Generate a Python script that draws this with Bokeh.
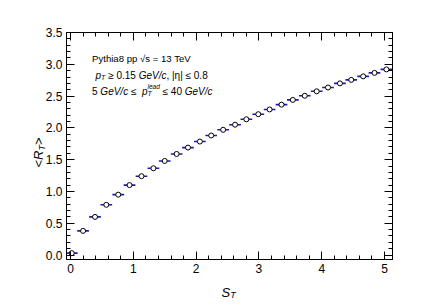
import math
from bokeh.plotting import figure
from bokeh.models import (Label, LinearAxis, SingleIntervalTicker, NumeralTickFormatter,
                          Range1d, ColumnDataSource)
from bokeh.embed import file_html
from bokeh.resources import INLINE

# ---- data ----
st = [0.02, 0.20, 0.39, 0.57, 0.76, 0.94, 1.13, 1.32, 1.50, 1.69, 1.87, 2.06, 2.24, 2.43,
      2.62, 2.80, 2.99, 3.17, 3.36, 3.54, 3.73, 3.92, 4.10, 4.29, 4.47, 4.66, 4.84, 5.03]
mean_rt = [0.03, 0.38, 0.60, 0.79, 0.95, 1.10, 1.24, 1.365, 1.48, 1.59, 1.69, 1.785, 1.88, 1.97,
           2.05, 2.135, 2.215, 2.29, 2.365, 2.44, 2.505, 2.575, 2.635, 2.70, 2.755, 2.81, 2.865, 2.92]
bin_half_width = 0.093

X0, X1 = -0.064, 5.127
Y0, Y1 = -0.07, 3.5

# frame in page pixels: left 66, top 32, right 392, bottom 259
W, H = 430, 300
FL, FT, FR, FB = 66, 32, 392, 259
ML, MT, MR, MB = FL, FT, W - FR, H - FB

p = figure(width=W, height=H, output_backend="svg", toolbar_location=None,
           x_range=Range1d(X0, X1), y_range=Range1d(Y0, Y1),
           min_border_left=ML, min_border_right=MR, min_border_top=MT, min_border_bottom=MB,
           x_axis_type=None, y_axis_type=None)
p.grid.visible = False
p.outline_line_color = "black"
p.outline_line_width = 1
p.background_fill_color = "white"
p.border_fill_color = "white"

FONT = "Liberation Sans"

def make_axis(ticker, show_labels):
    ax = LinearAxis(ticker=ticker)
    ax.axis_line_color = "black"
    ax.major_tick_line_color = "black"
    ax.minor_tick_line_color = "black"
    ax.major_tick_in = 8
    ax.major_tick_out = 0
    ax.minor_tick_in = 4
    ax.minor_tick_out = 0
    ax.major_label_text_font = FONT
    if show_labels:
        ax.major_label_text_color = "black"
        ax.major_label_text_font_size = "12px"
        ax.major_label_standoff = 4
    else:
        # mirror axis: ticks only, labels not painted
        ax.major_label_text_color = None
        ax.major_label_text_font_size = "1px"
        ax.major_label_standoff = 0
    return ax

xb = make_axis(SingleIntervalTicker(interval=1, num_minor_ticks=5), True)
yl = make_axis(SingleIntervalTicker(interval=0.5, num_minor_ticks=5), True)
yl.formatter = NumeralTickFormatter(format="0.0")
xa = make_axis(SingleIntervalTicker(interval=1, num_minor_ticks=5), False)
yr = make_axis(SingleIntervalTicker(interval=0.5, num_minor_ticks=5), False)
p.add_layout(xb, "below")
p.add_layout(yl, "left")
p.add_layout(xa, "above")
p.add_layout(yr, "right")

src = ColumnDataSource(dict(
    x=st, y=mean_rt,
    x0=[v - bin_half_width for v in st], x1=[v + bin_half_width for v in st]))
p.segment(x0="x0", y0="y", x1="x1", y1="y", source=src, line_color="#1c1ca8", line_width=1.6)
p.scatter(x="x", y="y", source=src, marker="circle", size=5, line_color="black",
          line_width=1, fill_color="white")

# ---- text helpers ----
PX0, PXS = 70.0, 62.8     # page x of S_T = 0, px per unit
PY0, PYS = 254.5, 63.6    # page y of <R_T> = 0, px per unit

def px2x(px):
    return (px - PX0) / PXS

def py2y(py):
    return (PY0 - py) / PYS

WID = {' ': 278, '.': 278, ',': 278, '/': 278, '|': 260, '=': 584, '≥': 549, '≤': 549,
       '<': 584, '>': 584, '√': 549, 'G': 778, 'e': 556, 'V': 667, 'c': 500, 'T': 611,
       'P': 667, 'y': 500, 't': 278, 'h': 556, 'i': 222, 'a': 556, 'p': 556, 's': 500,
       'η': 556, 'l': 222, 'd': 556, 'R': 722, 'S': 667}

def tw(s, size):
    return sum(WID.get(ch, 556) for ch in s) * size / 1000.0

def canvas_label(page_x, page_y, txt, style, size, angle=0.0):
    return Label(x=page_x, y=page_y, x_units="canvas", y_units="canvas",
                 text=txt, text_font=FONT, text_font_style=style, text_font_size=f"{size}px",
                 text_baseline="alphabetic", text_align="left", text_color="black", angle=angle)

def put(pieces, x_px, base_px):
    """pieces: (text or None, style, size, dy, advance or None); None text = pure gap."""
    x = x_px
    for txt, st_, sz, dy, adv in pieces:
        if txt:
            p.add_layout(Label(x=px2x(x), y=py2y(base_px + dy), text=txt, text_font=FONT,
                               text_font_style=st_, text_font_size=f"{sz}px",
                               text_baseline="alphabetic", text_align="left",
                               text_color="black"))
        x += (tw(txt, sz) if txt else 0) if adv is None else adv

FS = 10
SS = 7
SP = tw(" ", FS)
put([("Pythia8 pp √s = 13 TeV", "normal", 9.6, 0, None)], 91.5, 57.5)
put([("p", "italic", FS, 0, None),
     ("T", "italic", SS, 2.5, None),
     (None, "", FS, 0, SP),
     ("≥ 0.15", "normal", FS, 0, None),
     (None, "", FS, 0, SP),
     ("GeV/c", "italic", FS, 0, None),
     (", |η| ≤ 0.8", "normal", FS, 0, None)], 95, 74.5)
put([("5", "normal", FS, 0, None),
     (None, "", FS, 0, SP),
     ("GeV/c", "italic", FS, 0, None),
     (None, "", FS, 0, SP),
     ("≤", "normal", FS, 0, None),
     (None, "", FS, 0, 2 * SP),
     ("p", "italic", FS, 0, None),
     ("lead", "italic", SS - 0.5, -5, 0),
     ("T", "italic", SS, 2.5, tw("lead", SS - 0.5)),
     (None, "", FS, 0, SP),
     ("≤ 40", "normal", FS, 0, None),
     (None, "", FS, 0, SP),
     ("GeV/c", "italic", FS, 0, None)], 91.5, 90.5)

# axis titles: placed in side panels (not clipped to the frame), canvas coordinates
TS = 13
p.add_layout(canvas_label(221, 292, "S", "italic", TS), "below")
p.add_layout(canvas_label(221 + tw("S", TS), 294.5, "T", "italic", 9), "above")

ypieces = [("<", "normal", TS, 0, "left"), ("R", "italic", TS, 0, "left"),
           ("T", "italic", 9, 3, "right"), (">", "normal", TS, 0, "right")]
total = sum(tw(t, s) for t, _, s, _, _ in ypieces)
ycur = 152 + total / 2.0
bx = 38
for t, st_, s, d, side in ypieces:
    p.add_layout(canvas_label(bx + d, ycur, t, st_, s, angle=math.pi / 2), side)
    ycur -= tw(t, s)

open("out.html", "w").write(file_html(p, INLINE))
